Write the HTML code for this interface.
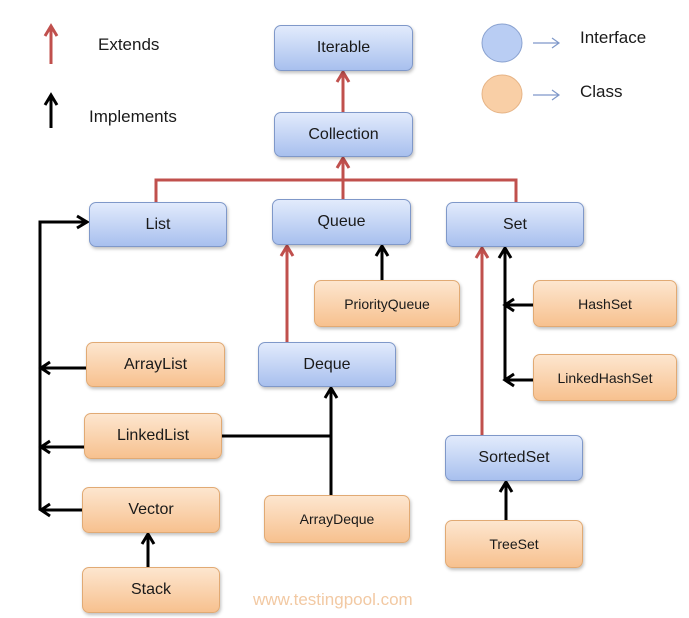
<!DOCTYPE html>
<html><head><style>
body{margin:0;width:689px;height:618px;background:#fff;position:relative;overflow:hidden;font-family:"Liberation Sans",sans-serif}
.b{position:absolute;box-sizing:border-box;border-radius:7px;display:flex;align-items:center;justify-content:center;font-size:16px;color:#1a1a1a;box-shadow:1px 2px 3px rgba(0,0,0,.25)}
.i{background:linear-gradient(#e2ebfc,#a8c0ee);border:1px solid #7f98c9}
.c{background:linear-gradient(#fde6cf,#f7c18f);border:1px solid #e1aa74}
.s{font-size:14px}
.t{position:absolute;font-size:17px;color:#1a1a1a}
svg{position:absolute;left:0;top:0}
</style></head><body>
<svg width="689" height="618">
<g stroke="#c0504d" stroke-width="3" fill="none">
<path d="M343,112 V73"/><path d="M337,82 L343,72 L349,82"/>
<path d="M156,202 V180 H516 V202"/><path d="M343,199 V159"/><path d="M337,168 L343,158 L349,168"/>
<path d="M287,342 V247"/><path d="M281,256 L287,246 L293,256"/>
<path d="M482,435 V249"/><path d="M476,258 L482,248 L488,258"/>
<path d="M51,64 V27"/><path d="M45,36 L51,26 L57,36"/>
</g>
<g stroke="#000" stroke-width="3" fill="none">
<path d="M382,280 V247"/><path d="M376,256 L382,246 L388,256"/>
<path d="M533,305 H505 M533,380 H505 M505,380 V249"/><path d="M499,258 L505,248 L511,258"/>
<path d="M514,299 L505,305 L514,311 M514,374 L505,380 L514,386"/>
<path d="M40,510 V222 H86"/><path d="M77,216 L87,222 L77,228"/>
<path d="M86,368 H42 M84,447 H42 M82,510 H42"/>
<path d="M50,362 L41,368 L50,374 M50,441 L41,447 L50,453 M50,504 L41,510 L50,516"/>
<path d="M222,436 H331 M331,495 V389"/><path d="M325,398 L331,388 L337,398"/>
<path d="M148,567 V535"/><path d="M142,544 L148,534 L154,544"/>
<path d="M506,520 V483"/><path d="M500,492 L506,482 L512,492"/>
<path d="M51,128 V96"/><path d="M45,105 L51,95 L57,105"/>
</g>
<g stroke="#7f98c9" stroke-width="1.2" fill="none"><path d="M533,43 H559 M552,38 L559,43 L552,48 M533,95 H559 M552,90 L559,95 L552,100"/></g>
<ellipse cx="502" cy="43" rx="20" ry="19" fill="#b9cdf3" stroke="#8aa2d0"/>
<ellipse cx="502" cy="94" rx="20" ry="19" fill="#f9cfa6" stroke="#e6b486"/>
</svg>
<div class="t" style="left:98px;top:35px">Extends</div>
<div class="t" style="left:89px;top:107px">Implements</div>
<div class="t" style="left:580px;top:28px">Interface</div>
<div class="t" style="left:580px;top:82px">Class</div>
<div class="b i" style="left:274px;top:25px;width:139px;height:46px">Iterable</div>
<div class="b i" style="left:274px;top:112px;width:139px;height:45px">Collection</div>
<div class="b i" style="left:89px;top:202px;width:138px;height:45px">List</div>
<div class="b i" style="left:272px;top:199px;width:139px;height:46px">Queue</div>
<div class="b i" style="left:446px;top:202px;width:138px;height:45px">Set</div>
<div class="b c s" style="left:314px;top:280px;width:146px;height:47px">PriorityQueue</div>
<div class="b c s" style="left:533px;top:280px;width:144px;height:47px">HashSet</div>
<div class="b c" style="left:86px;top:342px;width:139px;height:45px">ArrayList</div>
<div class="b i" style="left:258px;top:342px;width:138px;height:45px">Deque</div>
<div class="b c s" style="left:533px;top:354px;width:144px;height:47px">LinkedHashSet</div>
<div class="b c" style="left:84px;top:413px;width:138px;height:46px">LinkedList</div>
<div class="b i" style="left:445px;top:435px;width:138px;height:46px">SortedSet</div>
<div class="b c" style="left:82px;top:487px;width:138px;height:46px">Vector</div>
<div class="b c s" style="left:264px;top:495px;width:146px;height:48px">ArrayDeque</div>
<div class="b c s" style="left:445px;top:520px;width:138px;height:48px">TreeSet</div>
<div class="b c" style="left:82px;top:567px;width:138px;height:46px">Stack</div>
<div class="t" style="left:253px;top:590px;color:#f2c9a3;font-size:17px">www.testingpool.com</div>
</body></html>
